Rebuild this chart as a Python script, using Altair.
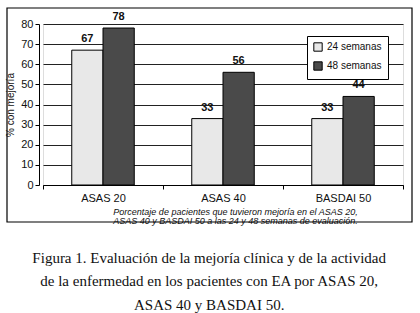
import altair as alt
import pandas as pd

categories = ["ASAS 20", "ASAS 40", "BASDAI 50"]
series = ["24 semanas", "48 semanas"]
values_24 = [67, 33, 33]
values_48 = [78, 56, 44]
y_ticks = [0, 10, 20, 30, 40, 50, 60, 70, 80]

rows = []
for c, a, b in zip(categories, values_24, values_48):
    rows.append({"cat": c, "serie": series[0], "val": a})
    rows.append({"cat": c, "serie": series[1], "val": b})
df = pd.DataFrame(rows)

SANS = "Liberation Sans"
SERIF = "Liberation Serif"

x_enc = alt.X("cat:N", sort=categories,
              scale=alt.Scale(paddingInner=0, paddingOuter=0),
              axis=alt.Axis(title=["Porcentaje de pacientes que tuvieron mejoría en el ASAS 20,",
                                   "ASAS 40 y BASDAI 50 a las 24 y 48 semanas de evaluación."],
                            titleFont=SANS, titleFontSize=9, titleFontStyle="italic",
                            titleFontWeight="normal", titleColor="#111",
                            titleLineHeight=9.5, titlePadding=4, titleX=192,
                            labelFont=SANS, labelFontSize=11, labelColor="#111",
                            labelPadding=3, ticks=True, tickBand="extent",
                            tickSize=4, tickColor="black", domainColor="black",
                            labelAngle=0))
xo_enc = alt.XOffset("serie:N", sort=series,
                     scale=alt.Scale(paddingInner=0, paddingOuter=0.92))
y_enc = alt.Y("val:Q", scale=alt.Scale(domain=[0, 80], nice=False),
              axis=alt.Axis(title="% con mejoría", values=y_ticks,
                            labelOverlap=False,
                            titleFont=SANS, titleFontSize=10, titleFontWeight="normal",
                            titleColor="#111", titlePadding=5,
                            labelFont=SANS, labelFontSize=11, labelColor="#111",
                            offset=4, tickSize=4, tickColor="black",
                            domainColor="black", gridColor="#222", gridWidth=1,
                            grid=True))

bars = alt.Chart(df).mark_bar(stroke="black", strokeWidth=1).encode(
    x=x_enc, xOffset=xo_enc, y=y_enc,
    fill=alt.Fill("serie:N", sort=series,
                  scale=alt.Scale(domain=series, range=["#e8e8e8", "#4a4a4a"]),
                  legend=alt.Legend(title=None, orient="none", legendX=264, legendY=12,
                                    fillColor="white", strokeColor="black",
                                    padding=6, rowPadding=5, symbolType="square",
                                    symbolSize=70, symbolStrokeColor="black",
                                    symbolStrokeWidth=1, labelFont=SANS,
                                    labelFontSize=10, labelColor="#111",
                                    labelLimit=200)),
)

labels = alt.Chart(df).mark_text(dy=-6, baseline="bottom", font=SANS, fontSize=11,
                                 fontWeight="bold", color="#111").encode(
    x=x_enc, xOffset=xo_enc, y=y_enc, text="val:Q")

frame = alt.Chart(alt.Data(values=[{}])).mark_rect(
    fill=None, stroke="black", strokeWidth=1.2, clip=False).encode(
    x=alt.value(-36), x2=alt.value(369), y=alt.value(-16), y2=alt.value(198))

chart = alt.layer(bars, labels, frame).properties(
    width=360, height=161,
    autosize=alt.AutoSizeParams(type="none"),
    padding={"left": 43, "top": 24, "right": 17, "bottom": 128},
    title=alt.TitleParams(
        text=["Figura 1. Evaluación de la mejoría clínica y de la actividad",
              "de la enfermedad en los pacientes con EA por ASAS 20,",
              "ASAS 40 y BASDAI 50."],
        orient="bottom", anchor="middle", frame="bounds", font=SERIF,
        fontSize=15, fontWeight="normal", color="#111", lineHeight=23.5,
        offset=25, baseline="top"),
).configure_view(stroke="black", strokeWidth=1).configure(background="white")

chart.save("out.html", embed_options={"renderer": "svg", "actions": False})
